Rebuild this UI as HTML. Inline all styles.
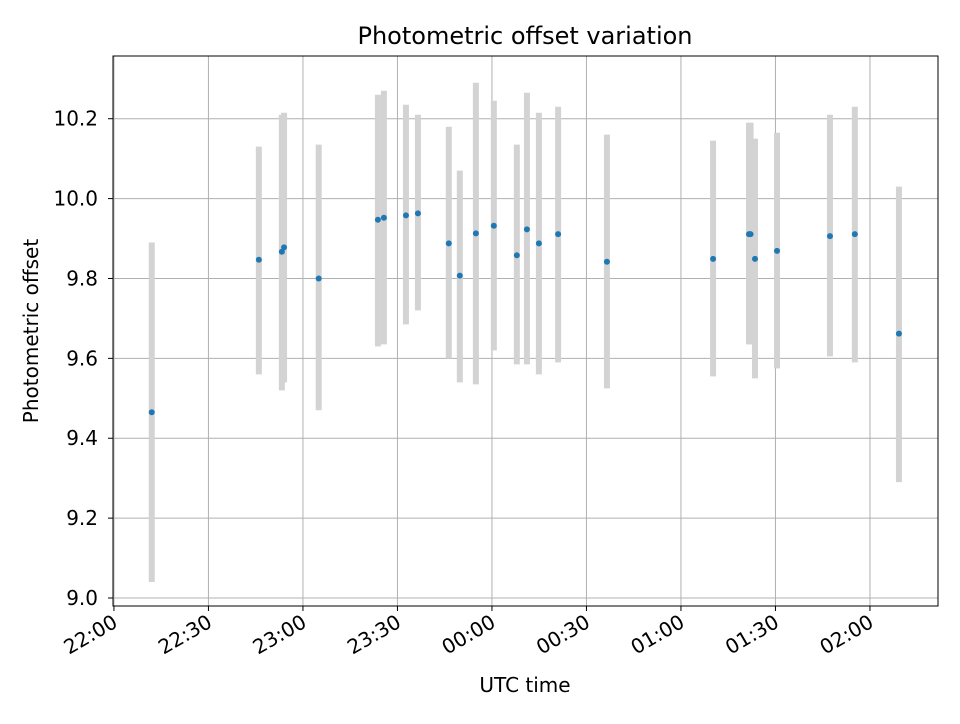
<!DOCTYPE html>
<html><head><meta charset="utf-8"><style>
body{margin:0;background:#fff;font-family:"DejaVu Sans","Liberation Sans",sans-serif}
svg text{font-family:"DejaVu Sans","Liberation Sans",sans-serif;fill:#000}
</style></head><body>
<svg width="960" height="720">
<rect width="960" height="720" fill="#fff"/>
<text x="525" y="44" font-size="24" text-anchor="middle">Photometric offset variation</text>
<g id="grid"></g>
<g id="bars"></g>
<g id="pts"></g>
<rect x="113" y="56" width="825" height="550" fill="none" stroke="#000" stroke-width="1"/>
<g id="ticks"></g>
<text x="525" y="692" font-size="20" text-anchor="middle">UTC time</text>
<text transform="translate(38,331) rotate(-90)" font-size="20" text-anchor="middle">Photometric offset</text>
</svg>
<script>
// minutes after 22:00
const times=[12,46,53.3,54,65,83.8,85.7,92.7,96.5,106.3,109.8,114.9,120.6,127.9,131.1,134.9,141,156.5,190.2,201.6,202.1,203.5,210.5,227.3,235.2,249.2];
const values=[9.465,9.847,9.867,9.878,9.80,9.947,9.952,9.958,9.963,9.888,9.807,9.913,9.932,9.858,9.923,9.888,9.911,9.842,9.849,9.911,9.911,9.849,9.869,9.906,9.911,9.662];
const lows=[9.04,9.56,9.52,9.54,9.47,9.63,9.635,9.685,9.72,9.6,9.54,9.535,9.62,9.585,9.585,9.56,9.59,9.525,9.555,9.635,9.635,9.55,9.575,9.605,9.59,9.29];
const highs=[9.89,10.13,10.21,10.215,10.135,10.26,10.27,10.235,10.21,10.18,10.07,10.29,10.245,10.135,10.265,10.215,10.23,10.16,10.145,10.19,10.19,10.15,10.165,10.21,10.23,10.03];
const xTicks=[0,30,60,90,120,150,180,210,240];
const xTickLabels=["22:00","22:30","23:00","23:30","00:00","00:30","01:00","01:30","02:00"];
const yTicks=[9.0,9.2,9.4,9.6,9.8,10.0,10.2];
const X=m=>113+(m+0.3)/(261.9)*825;
const Y=v=>606-(v-8.98)/(10.357-8.98)*550;
const NS="http://www.w3.org/2000/svg";
function mk(p,t,a){const e=document.createElementNS(NS,t);for(const k in a)e.setAttribute(k,a[k]);p.appendChild(e);return e;}
const grid=document.getElementById('grid'),ticks=document.getElementById('ticks');
xTicks.forEach((m,i)=>{const x=X(m);
 const g=mk(grid,'line',{x1:x,x2:x,y1:56,y2:606,stroke:'#b0b0b0','stroke-width':1});
 
 
 const t=mk(ticks,'line',{x1:x,x2:x,y1:606,y2:611,stroke:'#000'});
 
 
 const l=mk(ticks,'text',{transform:`translate(${x+5},${626}) rotate(-30)`,'font-size':20,'text-anchor':'end'});
 l.textContent=xTickLabels[i];
 
 
});
yTicks.forEach(v=>{const y=Y(v);
 const g=mk(grid,'line',{x1:113,x2:938,y1:y,y2:y,stroke:'#b0b0b0','stroke-width':1});
 
 
 const t=mk(ticks,'line',{x1:108,x2:113,y1:y,y2:y,stroke:'#000'});
 
 
 const l=mk(ticks,'text',{x:98,y:y+7,'font-size':20,'text-anchor':'end'});
 l.textContent=v.toFixed(1);
 
 
});
const bars=document.getElementById('bars'),pts=document.getElementById('pts');
times.forEach((m,i)=>{const x=X(m);
 const b=mk(bars,'line',{x1:x,x2:x,y1:Y(lows[i]),y2:Y(highs[i]),stroke:'#d3d3d3','stroke-width':6});
 
 
 const c=mk(pts,'circle',{cx:x,cy:Y(values[i]),r:3,fill:'#1f77b4'});
 
 
});
</script>
</body></html>
